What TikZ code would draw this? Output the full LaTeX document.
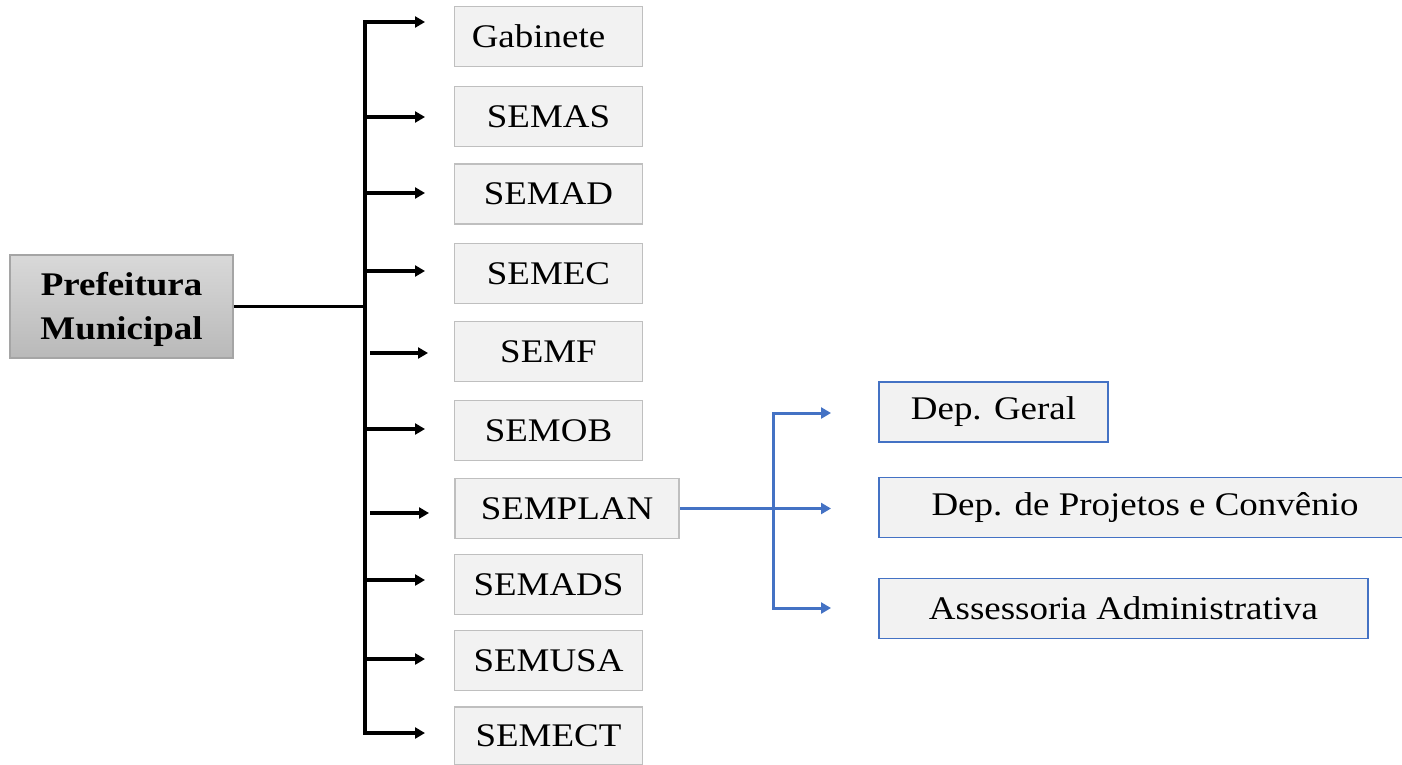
\documentclass[tikz,border=0pt]{standalone}
\usepackage{fontspec}
\setmainfont{Liberation Serif}[FakeStretch=1.12]
\usetikzlibrary{arrows.meta}
\definecolor{offblue}{HTML}{4472C4}
\definecolor{boxfill}{HTML}{F2F2F2}
\definecolor{boxline}{HTML}{BFBFBF}
\definecolor{prefline}{HTML}{A5A5A5}
\tikzset{
  unitbox/.style={draw=boxline, line width=0.9pt, fill=boxfill, inner sep=0pt,
    minimum width=94pt, minimum height=30pt,
    font=\fontsize{16.5pt}{19pt}\selectfont},
  bluebox/.style={unitbox, draw=offblue},
  bk/.style={line width=1.6pt, black, line join=miter},
  bl/.style={line width=1.5pt, offblue, line join=miter},
  tip/.style={-{Triangle[length=5pt,width=5.5pt]}},
  twotip/.style={{Triangle[length=5pt,width=5.5pt]}-{Triangle[length=5pt,width=5.5pt]}}
}
\begin{document}
\begin{tikzpicture}[x=0.5pt,y=-0.5pt]
\clip (0,0) rectangle (1402,765);
\fill[white] (0,0) rectangle (1402,765);
% main node
\node[draw=prefline, line width=0.9pt, top color=gray!30, bottom color=gray!55,
  minimum width=111.5pt, minimum height=51.5pt, inner sep=0pt, align=center,
  font=\fontsize{16.5pt}{22pt}\selectfont\bfseries] (pref) at (121.5,306.5) {\rule{0pt}{15pt}Prefeitura\\Municipal};
% secretariats
\node[unitbox] (gab) at (548.5,36.5) {Gabinete\kern10pt};
\node[unitbox] (semas) at (548.5,116.5) {SEMAS};
\node[unitbox] (semad) at (548.5,194) {SEMAD};
\node[unitbox] (semec) at (548.5,273.5) {SEMEC};
\node[unitbox] (semf) at (548.5,351.5) {SEMF};
\node[unitbox] (semob) at (548.5,430.5) {SEMOB};
\node[unitbox, minimum width=112pt] (semplan) at (567,508.5) {SEMPLAN};
\node[unitbox] (semads) at (548.5,584.5) {SEMADS};
\node[unitbox] (semusa) at (548.5,660.5) {SEMUSA};
\node[unitbox, minimum height=29pt] (semect) at (548.5,736) {SEMECT};
% departments
\node[bluebox, minimum width=114.5pt] (dgeral) at (993.5,412) {Dep. Geral};
\node[bluebox, minimum width=266pt] (dproj) at (1145,507.5) {Dep. de Projetos e Convênio};
\node[bluebox, minimum width=244.5pt] (assess) at (1123.5,608.5) {Assessoria Administrativa};
% black tree
\coordinate (ttop) at (365,22);
\coordinate (tbot) at (365,733);
\coordinate (egab) at (425,22);
\coordinate (eect) at (425,733);
\draw[bk] (pref.east) -- (pref.east -| ttop);
\draw[bk,twotip] (egab) -- (ttop) -- (tbot) -- (eect);
\draw[bk,tip] (365,117) -- (425,117);
\draw[bk,tip] (365,193) -- (425,193);
\draw[bk,tip] (365,271) -- (425,271);
\draw[bk,tip] (370,353) -- (428,353);
\draw[bk,tip] (365,429) -- (425,429);
\draw[bk,tip] (370,513) -- (429,513);
\draw[bk,tip] (365,580) -- (425,580);
\draw[bk,tip] (365,659) -- (425,659);
% blue tree
\coordinate (bt) at (773,413);
\coordinate (bb) at (773,608);
\coordinate (tg) at (831,413);
\coordinate (tp) at (831,509);
\coordinate (ta) at (831,608);
\draw[bl,tip] (semplan.east) -- (semplan.east -| tp);
\draw[bl,twotip] (tg) -- (bt) -- (bb) -- (ta);
\end{tikzpicture}
\end{document}
